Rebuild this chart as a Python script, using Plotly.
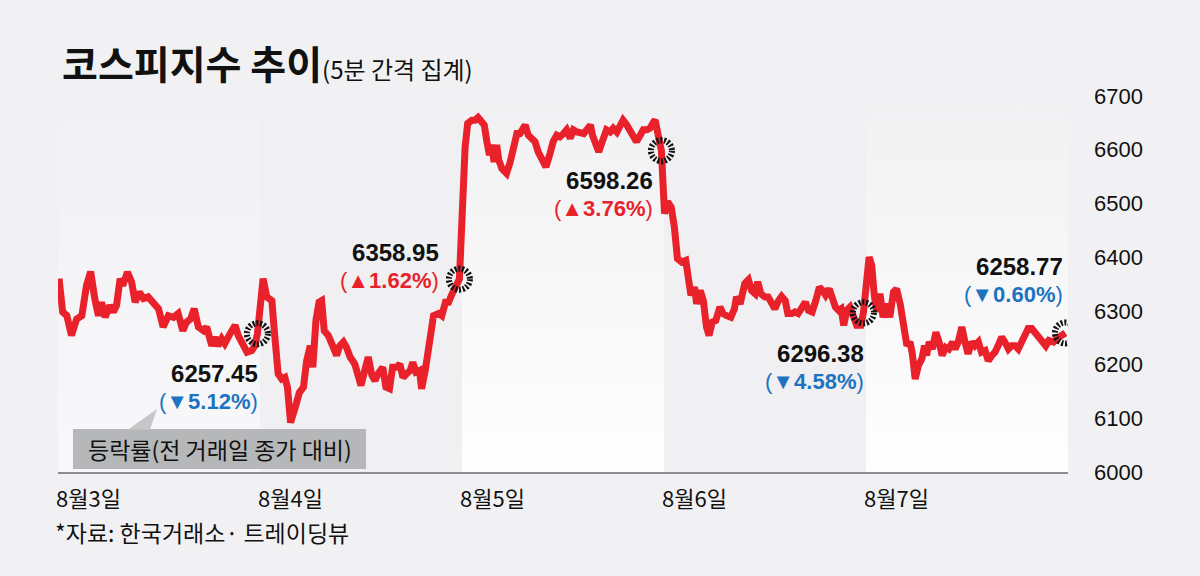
import plotly.graph_objects as go

# 코스피 5분 간격 (x: 09:00 기준 경과 분, y: 지수)
d1_min = [2, 9, 17, 26, 36, 46, 55, 63, 71, 78, 84, 91, 100, 107, 113, 120, 125, 134, 142, 149,
          157, 165, 174, 184, 194, 203, 213, 223, 232, 241, 248, 256, 263, 271, 281, 287, 297, 303,
          309, 316, 322, 332, 342, 348, 358, 365, 374, 380, 385]
d1_val = [6360, 6298, 6291, 6254, 6285, 6291, 6347, 6373, 6323, 6291, 6316, 6288, 6310, 6298, 6310,
          6360, 6347, 6372, 6354, 6316, 6335, 6323, 6326, 6313, 6304, 6270, 6291, 6288, 6295, 6263,
          6279, 6285, 6304, 6270, 6263, 6270, 6235, 6251, 6235, 6248, 6239, 6257, 6273, 6254, 6239,
          6223, 6226, 6235, 6257.45]

d2_min = [6, 13, 23, 27, 35, 42, 48, 53, 59, 68, 76, 84, 90, 97, 102, 108, 114, 119, 124, 132,
          138, 148, 154, 161, 167, 174, 183, 190, 195, 203, 209, 216, 222, 228, 237, 243, 250, 256,
          264, 270, 276, 283, 290, 295, 301, 308, 312, 319, 328, 335, 345, 351, 358, 364, 371, 377, 385]
d2_val = [6360, 6326, 6319, 6270, 6183, 6173, 6176, 6158, 6092, 6120, 6148, 6158, 6207, 6235, 6195,
          6282, 6316, 6319, 6263, 6254, 6242, 6217, 6235, 6242, 6232, 6214, 6201, 6183, 6161, 6192,
          6214, 6180, 6170, 6183, 6195, 6158, 6155, 6195, 6195, 6201, 6176, 6183, 6189, 6204, 6186,
          6189, 6155, 6189, 6239, 6291, 6295, 6291, 6316, 6316, 6332, 6341, 6358.95]

d3_min = [6, 11, 19, 25, 31, 38, 43, 48, 53, 57, 62, 67, 71, 77, 86, 93, 99, 106, 112, 122,
          128, 135, 141, 147, 154, 162, 170, 176, 183, 189, 196, 202, 209, 215, 222, 228, 235, 241,
          248, 252, 257, 264, 273, 279, 286, 292, 299, 305, 311, 318, 324, 331, 337, 344, 350, 357,
          363, 370, 373, 380, 385]
d3_val = [6605, 6649, 6655, 6655, 6660, 6652, 6646, 6615, 6590, 6609, 6577, 6609, 6581, 6565, 6556,
          6577, 6602, 6630, 6630, 6646, 6627, 6621, 6615, 6596, 6584, 6568, 6593, 6615, 6627, 6624,
          6630, 6637, 6621, 6637, 6633, 6633, 6630, 6637, 6646, 6627, 6615, 6596, 6621, 6637, 6633,
          6640, 6633, 6646, 6655, 6646, 6637, 6627, 6615, 6627, 6637, 6637, 6640, 6652, 6655, 6621,
          6598.26]

d4_min = [1, 7, 14, 20, 26, 34, 42, 52, 59, 63, 70, 76, 82, 87, 93, 100, 108, 114, 121, 129,
          136, 140, 147, 152, 156, 163, 169, 176, 181, 187, 195, 201, 208, 214, 221, 227, 234, 239,
          247, 253, 259, 266, 273, 279, 286, 293, 300, 306, 312, 319, 325, 331, 337, 342, 347, 353,
          359, 366, 372, 380, 385]
d4_val = [6481, 6503, 6493, 6456, 6397, 6391, 6394, 6329, 6344, 6313, 6338, 6319, 6270, 6254, 6279,
          6282, 6307, 6295, 6291, 6288, 6304, 6326, 6313, 6344, 6351, 6358, 6338, 6332, 6354, 6332,
          6326, 6326, 6310, 6304, 6319, 6327, 6319, 6295, 6295, 6298, 6295, 6307, 6316, 6301, 6298,
          6319, 6344, 6338, 6329, 6341, 6319, 6307, 6301, 6304, 6273, 6301, 6307, 6282, 6273, 6273,
          6296.38]

d5_min = [6, 11, 16, 21, 27, 33, 40, 46, 53, 59, 66, 72, 79, 85, 89, 95, 101, 108, 113, 117,
          122, 128, 135, 141, 147, 154, 160, 167, 172, 178, 185, 191, 197, 204, 210, 217, 223, 230,
          236, 243, 249, 255, 262, 268, 275, 281, 288, 294, 301, 307, 313, 320, 326, 333, 339, 347,
          353, 362, 368, 385]
d5_val = [6400, 6385, 6329, 6298, 6332, 6288, 6313, 6288, 6335, 6341, 6313, 6273, 6235, 6242, 6223,
          6173, 6198, 6211, 6235, 6217, 6242, 6229, 6260, 6242, 6217, 6232, 6229, 6242, 6229, 6242,
          6270, 6242, 6220, 6242, 6235, 6242, 6223, 6226, 6207, 6217, 6223, 6235, 6251, 6242, 6229,
          6235, 6235, 6229, 6242, 6260, 6267, 6267, 6260, 6251, 6248, 6235, 6245, 6242, 6248, 6258.77]

day_labels = ['8월3일', '8월4일', '8월5일', '8월6일', '8월7일']
close_val = [6257.45, 6358.95, 6598.26, 6296.38, 6258.77]
close_chg = ['▼5.12%', '▲1.62%', '▲3.76%', '▼4.58%', '▼0.60%']
yticks = [6000, 6100, 6200, 6300, 6400, 6500, 6600, 6700]

DAY = 390      # minutes per session
CLOSE_T = 385  # last 5-min bar
W, H = 1200, 576
L, R, T, B = 58, 132, 96, 104

RED = '#e9212b'
BLUE = '#1c73c0'
NUM = 'Liberation Sans, Arial, sans-serif'
KR = 'Noto Sans CJK KR, sans-serif'


def P(px, py):
    # pixel -> paper
    return (px - L) / (W - L - R), 1 - (py - T) / (H - T - B)


days = [(d1_min, d1_val), (d2_min, d2_val), (d3_min, d3_val), (d4_min, d4_val), (d5_min, d5_val)]
x_all, y_all = [], []
for i, (m, v) in enumerate(days):
    x_all += [i * DAY + t for t in m]
    y_all += v

fig = go.Figure()

#alternating day bands
band_bottom = ['#f8f8fa', '#f0f0f2', '#fefeff', '#f0f0f2', '#fefeff']
for i in range(5):
    x0, x1 = i * DAY, (i + 1) * DAY
    bx = [x0, x1, x1, x0, x0]
    by = [yticks[0], yticks[0], yticks[-1], yticks[-1], yticks[0]]
    if i % 2 == 0:
        fig.add_trace(go.Scatter(x=bx, y=by, mode='lines', fill='toself', line=dict(width=0),
                                 fillgradient=dict(type='vertical',
                                                   colorscale=[[0, band_bottom[i]], [1, '#f1f1f3']]),
                                 hoverinfo='skip', showlegend=False))
    else:
        fig.add_trace(go.Scatter(x=bx, y=by, mode='lines', fill='toself', line=dict(width=0),
                                 fillcolor=band_bottom[i], hoverinfo='skip', showlegend=False))

fig.add_trace(go.Scatter(x=x_all, y=y_all, mode='lines',
                         line=dict(color=RED, width=7, shape='linear'),
                         hoverinfo='skip', showlegend=False))

shapes = []
#close markers (dashed ring)
for i, v in enumerate(close_val):
    shapes.append(dict(type='circle', xref='x', yref='y', xsizemode='pixel', ysizemode='pixel',
                       xanchor=i * DAY + CLOSE_T, yanchor=v, x0=-10.5, x1=10.5, y0=-10.5, y1=10.5,
                       line=dict(color='#111111', width=6, dash='2px,1.7px'), layer='above'))

#legend box + tail
bx0, by0 = P(73, 469)
bx1, by1 = P(366, 429)
shapes.append(dict(type='rect', xref='paper', yref='paper', x0=bx0, x1=bx1, y0=by0, y1=by1,
                   fillcolor='#b6b7b9', line=dict(width=0), layer='above'))
ta, tb, tc = P(128, 429.5), P(150, 429.5), P(157, 409)
shapes.append(dict(type='path', xref='paper', yref='paper',
                   path='M {} {} L {} {} L {} {} Z'.format(ta[0], ta[1], tb[0], tb[1], tc[0], tc[1]),
                   fillcolor='#c6c7c9', line=dict(width=0), layer='above'))

# label block offsets (px) from each close point: right edge, block centre
lab_shift = [(3, -53), (-18, 13), (-6, -43), (3, -54), (0, 53)]

ann = []
for i, v in enumerate(close_val):
    col = RED if close_chg[i].startswith('▲') else BLUE
    txt = ('<span style="font-size:24px"><b>{:.2f}</b></span><br>'
           '<span style="font-size:22px;color:{}">(<b>{}</b>)</span>').format(v, col, close_chg[i])
    ann.append(dict(x=i * DAY + CLOSE_T, y=v, xref='x', yref='y', xanchor='right',
                    yanchor='middle', align='right', xshift=lab_shift[i][0],
                    yshift=lab_shift[i][1], showarrow=False, text=txt,
                    font=dict(family=NUM, size=21, color='#111111')))

for i, lab in enumerate(day_labels):
    ann.append(dict(x=i * DAY, y=P(0, 497)[1], xref='x', yref='paper', xanchor='left',
                    yanchor='middle', xshift=-4, showarrow=False, text=lab,
                    font=dict(family=KR, size=22, color='#111111')))

tx, ty = P(60, 62)
ann.append(dict(x=tx, y=ty, xref='paper', yref='paper', xanchor='left', yanchor='middle',
                showarrow=False,
                text='<b>코스피지수 추이</b><span style="font-size:24px">(5분 간격 집계)</span>',
                font=dict(family=KR, size=39, color='#111111')))

sx, sy = P(53, 532)
ann.append(dict(x=sx, y=sy, xref='paper', yref='paper', xanchor='left', yanchor='middle',
                showarrow=False, text='*자료: 한국거래소· 트레이딩뷰',
                font=dict(family=KR, size=23, color='#111111')))

lx, ly = P(219.5, 449)
ann.append(dict(x=lx, y=ly, xref='paper', yref='paper', xanchor='center', yanchor='middle',
                showarrow=False, text='등락률(전 거래일 종가 대비)',
                font=dict(family=KR, size=23, color='#111111')))

fig.update_layout(
    width=W, height=H,
    margin=dict(l=L, r=R, t=T, b=B, pad=0),
    paper_bgcolor='#f1f1f3', plot_bgcolor='#f1f1f3',
    showlegend=False, hovermode=False,
    shapes=shapes, annotations=ann,
    xaxis=dict(range=[0, 5 * DAY], showgrid=False, zeroline=False, showticklabels=False,
               showline=True, linecolor='#8e8e90', linewidth=1.5, ticks='', fixedrange=True),
    yaxis=dict(range=[yticks[0], yticks[-1]], side='right', tickvals=yticks,
               ticktext=[str(t) for t in yticks], ticks='', ticklabelstandoff=25,
               showgrid=True, gridcolor='#c6c6c8', gridwidth=1, griddash='6px,4px',
               zeroline=False, showline=False, fixedrange=True,
               tickfont=dict(family=NUM, size=22, color='#111111')),
)

fig.write_html("out.html", config={'displayModeBar': False},
               post_script="document.body.style.margin='0px';")
